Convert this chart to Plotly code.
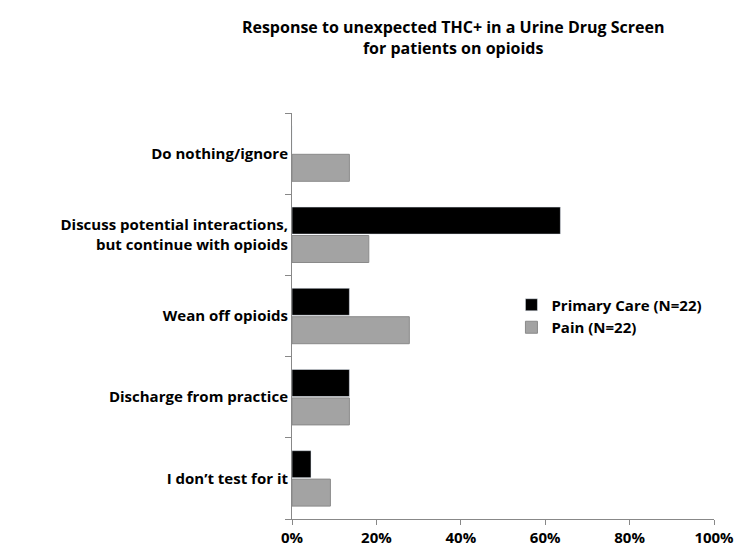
import plotly.graph_objects as go

categories = ['I don\u2019t test for it', 'Discharge from practice', 'Wean off opioids',
              'Discuss potential interactions,<br>but continue with opioids', 'Do nothing/ignore']
primary_care = [0.045, 0.136, 0.136, 0.636, 0.0]
pain = [0.091, 0.136, 0.278, 0.182, 0.136]
x_ticks = [0, 0.2, 0.4, 0.6, 0.8, 1.0]

fig = go.Figure()
fig.add_trace(go.Bar(y=categories, x=pain, name='Pain (N=22)', orientation='h',
                     marker=dict(color='#a3a3a3', line=dict(color='#8a8a8a', width=1))))
fig.add_trace(go.Bar(y=categories, x=primary_care, name='Primary Care (N=22)', orientation='h',
                     marker=dict(color='#000000')))

fig.update_layout(
    width=742, height=551,
    barmode='group', bargap=0.3, bargroupgap=0.05,
    plot_bgcolor='white', paper_bgcolor='white',
    font=dict(family='Open Sans', size=15, color='black', weight='bold'),
    title=dict(text='Response to unexpected THC+ in a Urine Drug Screen<br>for patients on opioids',
               x=0.6, xanchor='center', y=0.955, yanchor='top',
               font=dict(size=16, weight='bold')),
    margin=dict(l=284, r=36, t=105, b=25),
    legend=dict(x=0.52, y=0.5, xanchor='left', yanchor='middle', traceorder='reversed',
                font=dict(size=15, weight='bold'), itemwidth=30),
    xaxis=dict(range=[0, 1], tickvals=x_ticks, tickformat='.0%', showgrid=False,
               showline=True, linecolor='#888', ticks='outside', tickcolor='#888',
               zeroline=False),
    yaxis=dict(showline=True, linecolor='#888', ticks='outside', tickcolor='#888',
               tickson='boundaries', ticklen=6, showgrid=False),
)

fig.write_html('out.html')
